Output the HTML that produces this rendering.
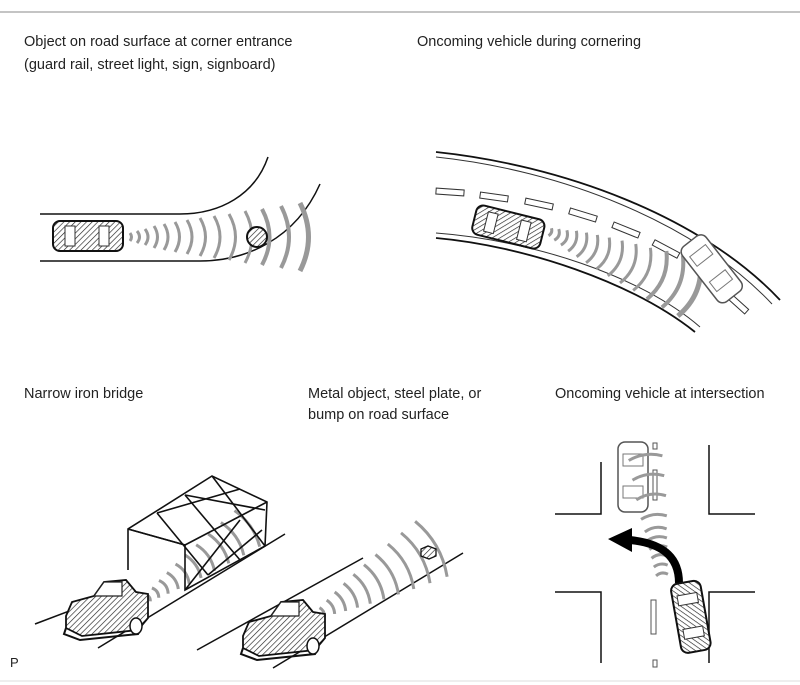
<!DOCTYPE html>
<html><head><meta charset="utf-8"><style>
html,body{margin:0;padding:0;background:#fff;}
svg{display:block}
text{font-family:"Liberation Sans",Arial,sans-serif;font-size:14.5px;fill:#222}
</style></head><body>
<svg width="800" height="685" viewBox="0 0 800 685" xmlns="http://www.w3.org/2000/svg">
<defs>
<pattern id="h" width="4" height="4" patternUnits="userSpaceOnUse" patternTransform="rotate(45)">
<rect width="4" height="4" fill="#fff"/><line x1="0" y1="0" x2="0" y2="4" stroke="#222" stroke-width="1.3"/>
</pattern>
<g id="tcar">
<rect x="0" y="0" width="70" height="30" rx="7" fill="url(#h)" stroke="#111" stroke-width="2"/>
<rect x="12" y="5" width="10" height="20" fill="#fff" stroke="#333" stroke-width="1"/>
<rect x="46" y="5" width="10" height="20" fill="#fff" stroke="#333" stroke-width="1"/>
</g>
<g id="wcar">
<rect x="0" y="0" width="70" height="30" rx="7" fill="#fff" stroke="#555" stroke-width="1.5"/>
<rect x="12" y="5" width="12" height="20" fill="#fff" stroke="#777" stroke-width="1"/>
<rect x="44" y="5" width="12" height="20" fill="#fff" stroke="#777" stroke-width="1"/>
</g>
<g id="pcar">
<path d="M2,28 L8,14 L30,8 L40,-6 L62,-8 L72,4 L84,6 L84,30 L74,42 L18,48 L2,40 Z" fill="url(#h)" stroke="#111" stroke-width="1.8"/>
<path d="M30,8 L40,-6 L58,-6 L58,8 Z" fill="#fff" stroke="#222" stroke-width="1.2"/>
<path d="M2,40 L0,46 L16,52 L74,46 L76,42" fill="none" stroke="#111" stroke-width="2"/>
<ellipse cx="72" cy="38" rx="6" ry="8" fill="#fff" stroke="#111" stroke-width="1.5"/>
</g>
</defs>

<line x1="0" y1="12" x2="800" y2="12" stroke="#888" stroke-width="1"/>
<line x1="0" y1="681" x2="800" y2="681" stroke="#ddd" stroke-width="1"/>

<text x="24" y="46">Object on road surface at corner entrance</text>
<text x="24" y="69">(guard rail, street light, sign, signboard)</text>
<text x="417" y="46">Oncoming vehicle during cornering</text>
<text x="24" y="398">Narrow iron bridge</text>
<text x="308" y="398">Metal object, steel plate, or</text>
<text x="308" y="419">bump on road surface</text>
<text x="555" y="398">Oncoming vehicle at intersection</text>
<text x="10" y="667" style="font-size:13px">P</text>

<!-- Panel 1 -->
<path d="M40,214 L180,214 C220,214 255,195 268,157" fill="none" stroke="#111" stroke-width="1.5"/>
<path d="M40,261 L200,261 C245,261 295,240 320,184" fill="none" stroke="#111" stroke-width="1.5"/>
<g fill="none" stroke="#999" stroke-width="3">
<path d="M130,233 q3,4 0,8"/><path d="M137,231 q5,6 0,12"/><path d="M145,229 q6,8 0,16"/>
<path d="M154,226 q7,11 0,22"/><path d="M164,224 q8,13 0,26"/><path d="M175,222 q9,15 0,30"/>
<path d="M187,220 q10,17 0,34"/><path d="M200,218 q11,19 0,38"/><path d="M214,216 q12,21 0,42"/>
<path d="M229,214 q13,23 0,46"/><path d="M245,211 q14,26 0,52"/><path d="M262,209 q15,28 0,56" stroke-width="4"/>
<path d="M281,206 q16,31 0,62" stroke-width="4"/><path d="M300,203 q17,34 0,68" stroke-width="5"/>
</g>
<use href="#tcar" x="53" y="221"/>
<circle cx="257" cy="237" r="10" fill="url(#h)" stroke="#111" stroke-width="2"/>

<!-- Panel 2 -->
<path d="M436,152 C560,165 700,215 780,300" fill="none" stroke="#111" stroke-width="1.8"/>
<path d="M436,157 C560,170 695,222 772,304" fill="none" stroke="#333" stroke-width="1"/>
<path d="M436,233 C530,240 640,275 700,327" fill="none" stroke="#333" stroke-width="1"/>
<path d="M436,238 C525,246 632,282 695,332" fill="none" stroke="#111" stroke-width="1.8"/>
<g fill="#fff" stroke="#333" stroke-width="1">
<rect x="436" y="189" width="28" height="6" transform="rotate(4 450 192)"/>
<rect x="480" y="194" width="28" height="6" transform="rotate(8 494 197)"/>
<rect x="525" y="201" width="28" height="6" transform="rotate(12 539 204)"/>
<rect x="569" y="212" width="28" height="6" transform="rotate(17 583 215)"/>
<rect x="612" y="227" width="28" height="6" transform="rotate(22 626 230)"/>
<rect x="652" y="246" width="28" height="6" transform="rotate(28 666 249)"/>
<rect x="690" y="268" width="28" height="6" transform="rotate(35 704 271)"/>
<rect x="724" y="300" width="26" height="6" transform="rotate(42 737 303)"/>
</g>
<g transform="translate(550,232) rotate(22)" fill="none" stroke="#999" stroke-width="3">
<path d="M0,-4 q3,4 0,8"/><path d="M7,-6 q5,6 0,12"/><path d="M15,-8 q6,8 0,16"/>
<path d="M24,-11 q7,11 0,22"/><path d="M34,-13 q8,13 0,26"/><path d="M45,-15 q9,15 0,30"/>
<path d="M57,-17 q10,17 0,34"/><path d="M70,-19 q11,19 0,38"/><path d="M84,-21 q12,21 0,42"/>
<path d="M99,-23 q13,23 0,46"/><path d="M115,-26 q14,26 0,52" stroke-width="4"/><path d="M132,-28 q15,28 0,56" stroke-width="4"/>
<path d="M150,-30 q16,30 0,60" stroke-width="5"/>
</g>
<use href="#tcar" transform="translate(478,204) rotate(14)"/>
<use href="#wcar" transform="translate(702,232) rotate(52)"/>

<!-- Panel 3 bridge -->
<line x1="35" y1="624" x2="130" y2="588" stroke="#111" stroke-width="1.5"/>
<line x1="98" y1="648" x2="285" y2="534" stroke="#111" stroke-width="1.5"/>
<g transform="translate(148,598) rotate(-35)" fill="none" stroke="#999" stroke-width="3">
<path d="M0,-4 q3,4 0,8"/><path d="M9,-6 q4,6 0,12"/><path d="M19,-8 q5,8 0,16"/>
<path d="M30,-10 q5,10 0,20"/><path d="M42,-12 q6,12 0,24"/><path d="M55,-14 q6,14 0,28"/>
<path d="M70,-16 q7,16 0,32"/><path d="M86,-18 q7,18 0,36"/><path d="M103,-20 q8,20 0,40"/><path d="M121,-22 q8,22 0,44"/>
</g>
<g fill="none" stroke="#111" stroke-width="1.6">
<polyline points="128,570 128,529 212,476 267,502 265,546 185,590 185,545 128,529"/>
<line x1="185" y1="545" x2="267" y2="502"/>
<line x1="157" y1="513" x2="240" y2="489"/>
<line x1="185" y1="495" x2="265" y2="510"/>
<line x1="157" y1="513" x2="208" y2="575"/>
<line x1="185" y1="495" x2="240" y2="560"/>
<line x1="185" y1="590" x2="240" y2="520"/>
<line x1="208" y1="575" x2="262" y2="530"/>
<line x1="212" y1="476" x2="265" y2="546"/>
<line x1="128" y1="529" x2="185" y2="545"/>
</g>
<use href="#pcar" x="64" y="588"/>

<!-- Panel 4 -->
<line x1="197" y1="650" x2="363" y2="558" stroke="#111" stroke-width="1.5"/>
<line x1="273" y1="668" x2="463" y2="553" stroke="#111" stroke-width="1.5"/>
<g transform="translate(322,612) rotate(-30)" fill="none" stroke="#999" stroke-width="3">
<path d="M0,-5 q3,5 0,10"/><path d="M10,-8 q4,8 0,16"/><path d="M21,-11 q5,11 0,22"/>
<path d="M33,-14 q6,14 0,28"/><path d="M46,-17 q7,17 0,34"/><path d="M60,-20 q8,20 0,40"/>
<path d="M75,-23 q9,23 0,46"/><path d="M91,-26 q10,26 0,52"/><path d="M108,-29 q11,29 0,58"/>
<path d="M126,-32 q12,32 0,64"/>
</g>
<path d="M421,549 l7,-3 l8,3 l0,7 l-7,3 l-8,-3 z" fill="url(#h)" stroke="#111" stroke-width="1.3"/>
<use href="#pcar" x="241" y="608"/>

<!-- Panel 5 -->
<g fill="none" stroke="#111" stroke-width="1.5">
<polyline points="555,514 601,514 601,462"/>
<polyline points="709,445 709,514 755,514"/>
<polyline points="555,592 601,592 601,663"/>
<polyline points="755,592 709,592 709,663"/>
</g>
<g fill="#fff" stroke="#555" stroke-width="1">
<rect x="653" y="443" width="4" height="6"/><rect x="653" y="470" width="4" height="30"/>
<rect x="651" y="600" width="5" height="34"/><rect x="653" y="660" width="4" height="7"/>
</g>
<use href="#wcar" transform="translate(618,442) rotate(90) translate(0,-30)"/>
<g transform="translate(662,575) rotate(-98)" fill="none" stroke="#999" stroke-width="3">
<path d="M0,-6 q4,6 0,12"/><path d="M9,-7 q4,7 0,14"/><path d="M18,-8 q5,8 0,16"/>
<path d="M27,-9 q5,9 0,18"/><path d="M36,-10 q5,10 0,20"/><path d="M45,-11 q6,11 0,22"/>
<path d="M58,-13 q6,13 0,26"/><path d="M78,-15 q7,15 0,30"/><path d="M98,-16 q7,16 0,32"/><path d="M118,-17 q7,17 0,34"/>
</g>
<path d="M679,583 C679,555 660,543 630,540" fill="none" stroke="#000" stroke-width="8"/>
<polygon points="608,539 632,528 632,552" fill="#000"/>
<use href="#tcar" transform="translate(670,585) rotate(80) translate(0,-30)"/>
</svg>
</body></html>
